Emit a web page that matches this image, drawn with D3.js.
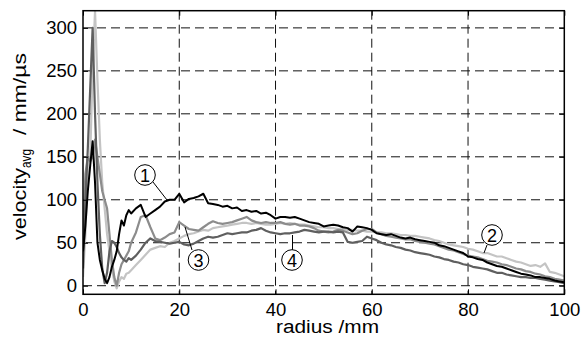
<!DOCTYPE html>
<html><head><meta charset="utf-8">
<script src="https://cdn.jsdelivr.net/npm/d3@7"></script>
<style>body{margin:0;background:#fff}svg{display:block}text{font-family:"Liberation Sans",Arial,sans-serif;fill:#000}</style>
</head><body><svg id="c" width="582" height="342"></svg>
<script>
const radius = [0,0.5,1,1.5,2,2.5,3,3.5,4,4.5,5,5.5,6,6.5,7,7.5,8,8.5,9,9.5,10,
11,12,13,14,15,16,17,18,19,20,21,22,23,24,25,26,27,28,29,30,
31,32,33,34,35,36,37,38,39,40,41,42,43,44,45,46,47,48,49,50,
51,52,53,54,55,56,57,58,59,60,61,62,63,64,65,66,67,68,69,70,
71,72,73,74,75,76,77,78,79,80,81,82,83,84,85,86,87,88,89,90,
91,92,93,94,95,96,97,98,99,100];
const series1 = [40,70,110,140,168,120,50,30,18,8,3,10,22,30,40,60,76,70,82,88,84,
90,94,80,84,88,92,98,100,100,107,97,101,102,104,107,96,95,94,92,93,
90,91,87,88,86,87,84,85,82,78,80,80,79,80,78,76,74,73,72,69,
70,71,70,68,67,63,69,68,67,65,61,60,59,60,58,56,55,56,54,53,
52,51,50,47,46,44,42,40,38,34,33,31,30,27,25,23,22,20,18,16,
14,13,12,10,10,9,8,6,5,4];
const series2 = [10,60,140,150,250,320,240,170,120,90,60,40,20,5,-3,5,10,8,14,15,18,
24,30,36,42,44,46,45,50,52,55,58,60,61,63,65,64,67,68,69,70,
71,72,73,73,72,73,72,71,71,72,73,72,73,72,71,71,70,69,68,68,
67,67,66,66,65,65,64,64,63,63,62,62,61,61,60,59,59,58,58,57,
56,55,53,52,50,48,47,46,45,43,42,40,38,38,36,34,34,32,30,28,
27,25,23,24,22,26,16,15,13,11];
const series3 = [60,130,150,145,150,170,150,130,110,100,90,60,30,10,0,15,25,30,35,40,50,
62,80,82,68,55,53,56,60,62,74,70,66,65,64,68,72,75,73,72,73,
74,76,78,80,76,74,73,74,73,73,74,72,71,72,70,70,69,67,64,63,
62,63,65,64,62,60,61,64,66,66,62,60,58,57,56,55,54,54,52,51,
50,49,48,46,44,42,41,39,37,35,34,33,31,29,28,27,25,24,22,20,
19,17,16,14,13,11,10,8,7,6];
const series4 = [20,100,160,230,300,200,120,60,20,3,15,40,52,50,45,38,33,30,28,32,30,
35,42,50,55,52,51,50,49,50,51,48,47,49,52,55,57,56,57,59,61,
60,61,62,62,64,65,67,64,62,61,60,61,61,62,63,65,64,63,62,63,
63,62,63,62,51,50,51,52,57,55,53,50,48,47,45,44,42,41,39,38,
37,36,34,33,31,30,28,27,25,24,22,21,20,19,17,15,15,13,12,11,
10,10,9,9,8,7,6,5,4,3];
const xTicks = [0,20,40,60,80,100];
const yTicks = [0,50,100,150,200,250,300];
const labels = ["1","2","3","4"];

const svg = d3.select("#c");
const x = d3.scaleLinear([0,100],[83,564.3]);
const y = d3.scaleLinear([-10,320],[294.3,10.7]);
const L=83,R=564.3,T=10.7,B=294.3;

// grid
const g = svg.append("g");
g.selectAll("line.gy").data(yTicks).join("line")
  .attr("x1",L).attr("x2",R).attr("y1",d=>y(d)).attr("y2",d=>y(d))
  .attr("stroke","#111").attr("stroke-width",1).attr("stroke-dasharray","9,5");
g.selectAll("line.gx").data(xTicks.filter(d=>d>0&&d<100)).join("line")
  .attr("y1",T).attr("y2",B).attr("x1",d=>x(d)).attr("x2",d=>x(d))
  .attr("stroke","#111").attr("stroke-width",1).attr("stroke-dasharray","9,5");

svg.append("clipPath").attr("id","clip").append("rect")
  .attr("x",L).attr("y",T).attr("width",R-L).attr("height",B-T);

const line = d3.line().x((d,i)=>x(radius[i])).y(d=>y(d));
const allSeries = [
  {v:series2,c:"#c4c4c4",w:2.2},
  {v:series3,c:"#8c8c8c",w:2.2},
  {v:series4,c:"#5f5f5f",w:2.2},
  {v:series1,c:"#000",w:2}
];
const lg = svg.append("g").attr("clip-path","url(#clip)");
allSeries.forEach(s=>{
  lg.append("path").datum(s.v).attr("d",line).attr("fill","none")
    .attr("stroke",s.c).attr("stroke-width",s.w).attr("stroke-linejoin","round");
});

// axes
const fs = "18.5px";
const ax = d3.axisBottom(x).tickValues(xTicks).tickSize(-5).tickPadding(9);
svg.append("g").attr("transform",`translate(0,${B})`).call(ax)
  .call(s=>{s.select(".domain").remove();s.selectAll("text").attr("font-size",fs).attr("fill","#000").style("font-family","Liberation Sans, Arial");});
svg.append("g").attr("transform",`translate(0,${T})`).call(d3.axisTop(x).tickValues(xTicks).tickSize(-5).tickFormat(""))
  .call(s=>s.select(".domain").remove());
const ay = d3.axisLeft(y).tickValues(yTicks).tickSize(-5).tickPadding(6);
svg.append("g").attr("transform",`translate(${L},0)`).call(ay)
  .call(s=>{s.select(".domain").remove();s.selectAll("text").attr("font-size",fs).attr("fill","#000").style("font-family","Liberation Sans, Arial");});
svg.append("g").attr("transform",`translate(${R},0)`).call(d3.axisRight(y).tickValues(yTicks).tickSize(-5).tickFormat(""))
  .call(s=>s.select(".domain").remove());
svg.append("rect").attr("x",L).attr("y",T).attr("width",R-L).attr("height",B-T)
  .attr("fill","none").attr("stroke","#000").attr("stroke-width",1.5);

// axis labels
svg.append("text").attr("x",276).attr("y",333)
  .attr("font-size","18px").attr("textLength",103).attr("lengthAdjust","spacingAndGlyphs").text("radius /mm");
const yl = svg.append("g").attr("transform","translate(26,0) rotate(-90)");
yl.append("text").attr("x",-240).attr("y",0).attr("font-size","18px")
  .attr("textLength",72).attr("lengthAdjust","spacingAndGlyphs").text("velocity");
yl.append("text").attr("x",-168).attr("y",4.5).attr("font-size","14px")
  .attr("textLength",19).attr("lengthAdjust","spacingAndGlyphs").text("avg");
yl.append("text").attr("x",-135).attr("y",0).attr("font-size","18px")
  .attr("textLength",82).attr("lengthAdjust","spacingAndGlyphs").text("/ mm/µs");

// annotations
const ann = [
  {cx:145,cy:175,l:[[153,182],[167,200]]},
  {cx:492,cy:235,l:[[487,245],[484,253]]},
  {cx:198.5,cy:260,l:[[192,250],[185,227]]},
  {cx:292,cy:260,l:[[292.5,250],[292.5,235]]}
];
ann.forEach((a,i)=>{
  svg.append("line").attr("x1",a.l[0][0]).attr("y1",a.l[0][1]).attr("x2",a.l[1][0]).attr("y2",a.l[1][1])
    .attr("stroke","#000").attr("stroke-width",1);
  svg.append("circle").attr("cx",a.cx).attr("cy",a.cy).attr("r",10.3)
    .attr("fill","#fff").attr("stroke","#000").attr("stroke-width",1);
  svg.append("text").attr("x",a.cx).attr("y",a.cy+6.5).attr("text-anchor","middle")
    .attr("font-size","18px").text(labels[i]);
});
</script></body></html>
